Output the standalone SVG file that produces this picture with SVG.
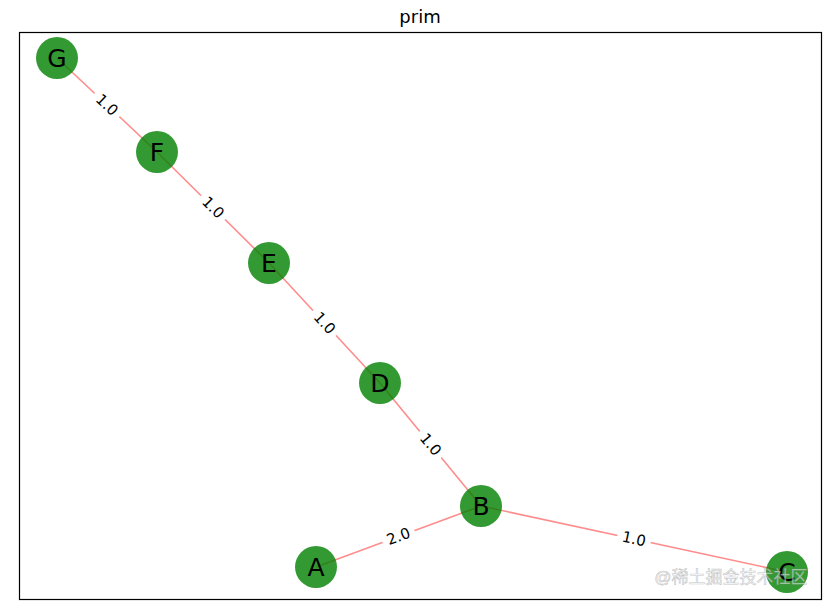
<svg xmlns="http://www.w3.org/2000/svg" width="832" height="611" viewBox="0 0 832 611">
<style>
.edge{stroke:#ff0000;stroke-opacity:0.45;stroke-width:1.6;fill:none}
.node circle{fill:#008000;fill-opacity:0.8}
.node text{font-family:"DejaVu Sans",sans-serif;font-size:25px;fill:#000;text-anchor:middle;dominant-baseline:central}
.elabel text{font-family:"DejaVu Sans",sans-serif;font-size:15px;fill:#000;text-anchor:middle;dominant-baseline:central}
.elabel rect{fill:#fff}
</style>
<rect x="0" y="0" width="832" height="611" fill="#fff"/>
<text x="420" y="16" font-family="DejaVu Sans,sans-serif" font-size="18" text-anchor="middle" dominant-baseline="central">prim</text>
<rect x="19.5" y="32.5" width="802" height="567" fill="none" stroke="#000" stroke-width="1.2"/>
<g id="connectors">
<line class="edge" x1="57" y1="58" x2="157" y2="152"/>
<line class="edge" x1="157" y1="152" x2="269" y2="263"/>
<line class="edge" x1="269" y1="263" x2="380" y2="383"/>
<line class="edge" x1="380" y1="383" x2="481" y2="506"/>
<line class="edge" x1="316" y1="567" x2="481" y2="506"/>
<line class="edge" x1="481" y1="506" x2="787" y2="572"/>
<g class="elabel" transform="translate(107,105) rotate(43)"><rect x="-17" y="-9" width="34" height="18"/><text>1.0</text></g>
<g class="elabel" transform="translate(213,207.5) rotate(44.7)"><rect x="-17" y="-9" width="34" height="18"/><text>1.0</text></g>
<g class="elabel" transform="translate(324.5,323) rotate(47.2)"><rect x="-17" y="-9" width="34" height="18"/><text>1.0</text></g>
<g class="elabel" transform="translate(430.5,444.5) rotate(50.6)"><rect x="-17" y="-9" width="34" height="18"/><text>1.0</text></g>
<g class="elabel" transform="translate(398.5,536.5) rotate(-20.3)"><rect x="-17" y="-9" width="34" height="18"/><text>2.0</text></g>
<g class="elabel" transform="translate(634,539) rotate(12.2)"><rect x="-17" y="-9" width="34" height="18"/><text>1.0</text></g>
</g>
<g id="node-G" class="node"><circle cx="57" cy="58" r="21"/><text x="57" y="58">G</text></g>
<g id="node-F" class="node"><circle cx="157" cy="152" r="21"/><text x="157" y="152">F</text></g>
<g id="node-E" class="node"><circle cx="269" cy="263" r="21"/><text x="269" y="263">E</text></g>
<g id="node-D" class="node"><circle cx="380" cy="383" r="21"/><text x="380" y="383">D</text></g>
<g id="node-B" class="node"><circle cx="481" cy="506" r="21"/><text x="481" y="506">B</text></g>
<g id="node-A" class="node"><circle cx="316" cy="567" r="21"/><text x="316" y="567">A</text></g>
<g id="node-C" class="node"><circle cx="787" cy="572" r="21"/><text x="787" y="572">C</text></g>
<text x="731" y="583" font-family="Liberation Sans,Noto Sans CJK SC,sans-serif" font-size="17" fill="#ffffff" fill-opacity="0.55" stroke="#888" stroke-opacity="0.5" stroke-width="0.6" text-anchor="middle">@稀土掘金技术社区</text>
</svg>
